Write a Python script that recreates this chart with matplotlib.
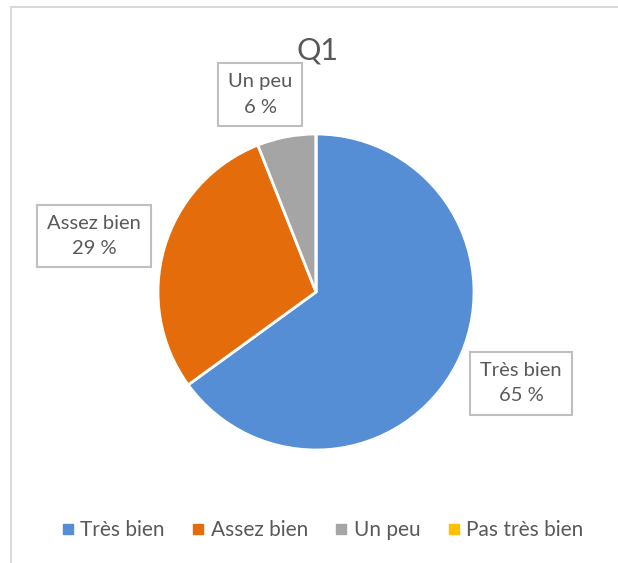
import numpy as np
import matplotlib
matplotlib.use("Agg")
import matplotlib.pyplot as plt
from matplotlib.lines import Line2D

plt.rcParams['font.family'] = ['Lato', 'DejaVu Sans']

# data
categories = ["Très bien", "Assez bien", "Un peu", "Pas très bien"]
values = [65, 29, 6, 0]
colors = ["#558ed5", "#e46c0a", "#a5a5a5", "#ffc000"]
title = "Q1"

# radial distance of each data label (in radii) and small angle nudge (deg)
label_dist = [1.42, 1.45, 1.30, None]
label_nudge = [3, 2, 5, 0]

text_color = "#595959"

W, H = 618, 563
fig = plt.figure(figsize=(W / 100, H / 100), dpi=100)

# chart frame (only left and top edges visible)
fig.add_artist(Line2D([11 / W, 11 / W], [0, 1 - 7 / H], transform=fig.transFigure,
                      color="#d9d9d9", lw=1.5))
fig.add_artist(Line2D([11 / W, 1], [1 - 7 / H, 1 - 7 / H], transform=fig.transFigure,
                      color="#d9d9d9", lw=1.5))

cx, cy, r = 316, 292, 158
ax = fig.add_axes([(cx - r) / W, (H - cy - r) / H, 2 * r / W, 2 * r / H])
wedges, _ = ax.pie(values, colors=colors, startangle=90, counterclock=False,
                   wedgeprops=dict(edgecolor="white", linewidth=2))
ax.set_xlim(-1, 1)
ax.set_ylim(-1, 1)
ax.axis("off")

total = float(sum(values))
start = 90.0
for name, v, d, nudge in zip(categories, values, label_dist, label_nudge):
    span = 360.0 * v / total
    mid = start - span / 2
    start -= span
    if v == 0 or d is None:
        continue
    a = np.deg2rad(mid + nudge)
    ax.text(d * np.cos(a), d * np.sin(a), f"{name}\n{v} %", ha="center", va="center",
            fontsize=14.5, color=text_color, linespacing=1.6, clip_on=False,
            bbox=dict(boxstyle="square,pad=0.5", fc="white", ec="#bfbfbf", lw=1.5))

fig.text(318 / W, 1 - 50 / H, title, ha="center", va="center", fontsize=22, color=text_color)

handles = [Line2D([], [], marker="s", ls="none", markersize=7, color=c) for c in colors]
fig.legend(handles, categories, loc="center", bbox_to_anchor=(0.52, 1 - 530 / H), ncol=4,
           frameon=False, fontsize=15, labelcolor=text_color, handletextpad=0.2,
           columnspacing=1.2, handlelength=0.8)

fig.savefig("out.png", dpi=100)
